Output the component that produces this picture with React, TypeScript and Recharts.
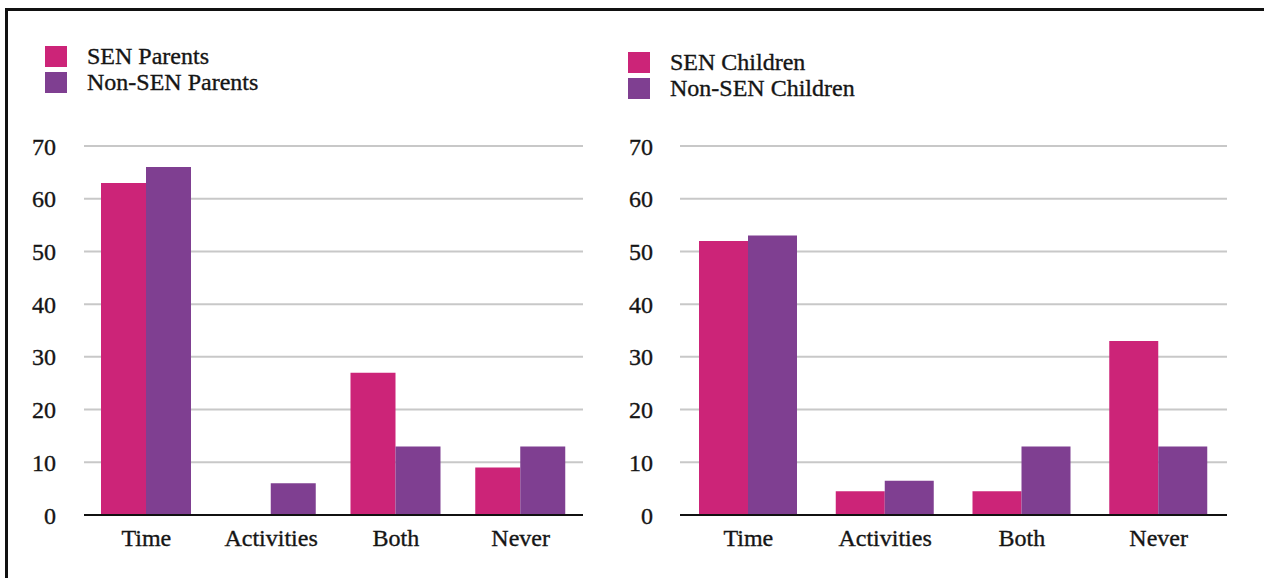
import { BarChart, Bar, XAxis, YAxis, CartesianGrid, Legend } from "recharts"

const categories = ["Time", "Activities", "Both", "Never"]
const senParents = [63, 0, 27, 9]
const nonSenParents = [66, 6, 13, 13]
const senChildren = [52, 4.5, 4.5, 33]
const nonSenChildren = [53, 6.5, 13, 13]
const yTicks = [0, 10, 20, 30, 40, 50, 60, 70]
const seriesKeys = ["sen", "nonSen"]

const PINK = "#cc2478"
const PURPLE = "#7f3f91"
const FONT = '"Liberation Serif", "Times New Roman", serif'
const FONT_SIZE = 24
const TEXT = "#151515"

const parentsData = categories.map((name, i) => ({
  name,
  sen: senParents[i],
  nonSen: nonSenParents[i],
}))

const childrenData = categories.map((name, i) => ({
  name,
  sen: senChildren[i],
  nonSen: nonSenChildren[i],
}))

// square swatch + label, one per row, in series order
function LegendBox({ payload }: any) {
  const items = [...(payload || [])].sort(
    (a: any, b: any) => seriesKeys.indexOf(a.dataKey) - seriesKeys.indexOf(b.dataKey)
  )
  return (
    <div
      style={{
        fontFamily: FONT,
        fontSize: FONT_SIZE,
        color: TEXT,
        WebkitTextStroke: "0.35px " + TEXT,
      }}
    >
      {items.map((p: any) => (
        <div
          key={p.value}
          style={{ display: "flex", alignItems: "center", height: 26, whiteSpace: "nowrap" }}
        >
          <span
            style={{
              display: "inline-block",
              width: 22,
              height: 21,
              background: p.color,
              marginRight: 20,
            }}
          />
          <span style={{ lineHeight: "26px" }}>{p.value}</span>
        </div>
      ))}
    </div>
  )
}

type PanelProps = {
  data: { name: string; sen: number; nonSen: number }[]
  senLabel: string
  nonSenLabel: string
  left: number
  width: number
  yAxisWidth: number
  labelGap: number
  marginRight: number
  categoryGap: number
  legendTop: number
  legendLeft: number
}

function Panel(props: PanelProps) {
  const tickStyle = {
    fontFamily: FONT,
    fontSize: FONT_SIZE,
    fill: TEXT,
    stroke: TEXT,
    strokeWidth: 0.35,
  }
  return (
    <div style={{ position: "absolute", left: props.left, top: 0 }}>
      <BarChart
        width={props.width}
        height={578}
        data={props.data}
        margin={{ top: 146, right: props.marginRight, bottom: 0, left: 0 }}
        barCategoryGap={props.categoryGap}
        barGap={0}
      >
        <CartesianGrid vertical={false} stroke="#c8c8c8" strokeWidth={2} />
        <XAxis
          dataKey="name"
          height={63}
          tickSize={0}
          tickMargin={14}
          tickLine={false}
          axisLine={{ stroke: "#111", strokeWidth: 2 }}
          tick={tickStyle}
        />
        <YAxis
          width={props.yAxisWidth}
          domain={[0, 70]}
          ticks={yTicks}
          tickSize={0}
          tickMargin={props.labelGap}
          tickLine={false}
          axisLine={false}
          tick={tickStyle}
        />
        <Legend
          layout="vertical"
          align="center"
          verticalAlign="middle"
          content={<LegendBox />}
          wrapperStyle={{ top: props.legendTop, left: props.legendLeft }}
        />
        <Bar dataKey="sen" name={props.senLabel} fill={PINK} isAnimationActive={false} />
        <Bar dataKey="nonSen" name={props.nonSenLabel} fill={PURPLE} isAnimationActive={false} />
      </BarChart>
    </div>
  )
}

export default function App() {
  return (
    <div
      style={{
        position: "fixed",
        top: 0,
        left: 0,
        width: 1264,
        height: 578,
        background: "#fff",
        overflow: "hidden",
      }}
    >
      <div
        style={{
          position: "absolute",
          top: 8,
          left: 5,
          right: 0,
          bottom: 0,
          borderTop: "3px solid #111",
          borderLeft: "3px solid #111",
        }}
      />
      <Panel
        data={parentsData}
        senLabel="SEN Parents"
        nonSenLabel="Non-SEN Parents"
        left={0}
        width={600}
        yAxisWidth={84}
        labelGap={28}
        marginRight={17}
        categoryGap={17}
        legendTop={43}
        legendLeft={45}
      />
      <Panel
        data={childrenData}
        senLabel="SEN Children"
        nonSenLabel="Non-SEN Children"
        left={600}
        width={664}
        yAxisWidth={80}
        labelGap={27}
        marginRight={37}
        categoryGap={19}
        legendTop={49}
        legendLeft={28}
      />
    </div>
  )
}
